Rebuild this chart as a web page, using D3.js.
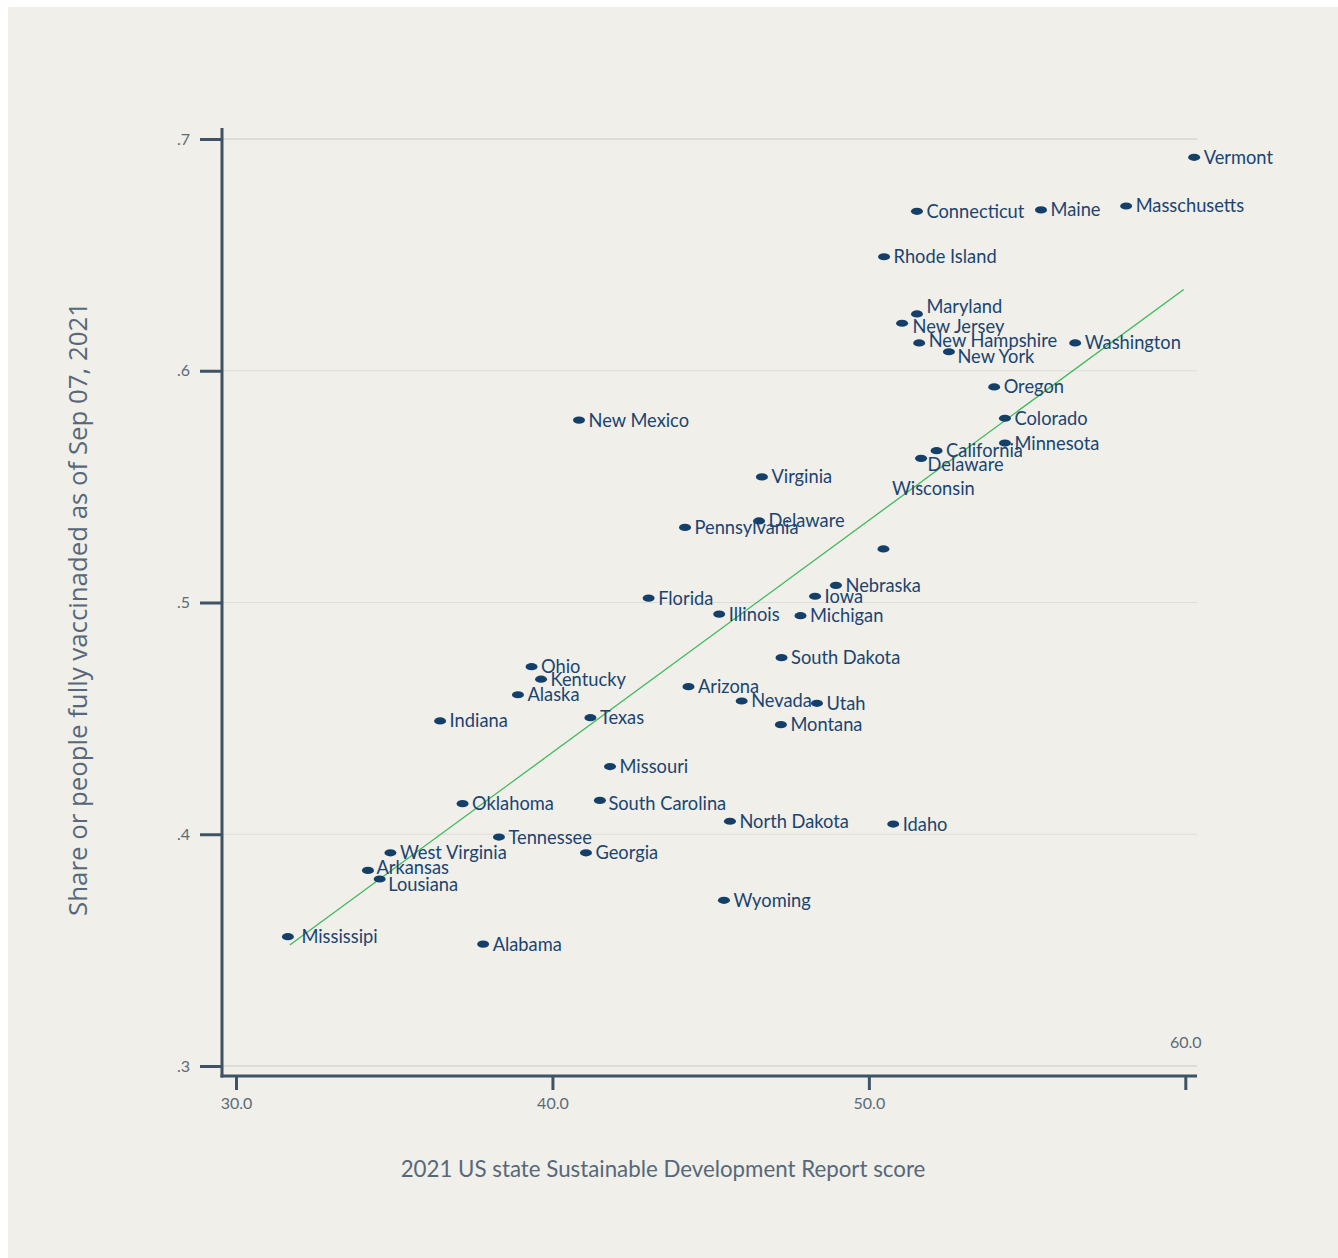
<!DOCTYPE html>
<html>
<head>
<meta charset="utf-8">
<script src="https://cdn.jsdelivr.net/npm/d3@7"></script>
<style>
  html, body { margin: 0; padding: 0; background: #ffffff; }
  svg { display: block; }
</style>
</head>
<body>
<svg id="chart" width="1338" height="1258"></svg>
<script>
// ---------------- DATA ----------------
const states = [
  "Vermont", "Masschusetts", "Maine", "Connecticut", "Rhode Island",
  "Maryland", "New Jersey", "New Hampshire", "New York", "Washington",
  "Oregon", "Colorado", "Minnesota", "California", "Delaware",
  "Wisconsin", "Virginia", "Delaware", "Pennsylvania", "New Mexico",
  "Nebraska", "Iowa", "Florida", "Illinois", "Michigan",
  "South Dakota", "Arizona", "Nevada", "Utah", "Montana",
  "Texas", "Missouri", "South Carolina", "North Dakota", "Idaho",
  "Georgia", "Wyoming", "Ohio", "Kentucky", "Alaska",
  "Indiana", "Oklahoma", "Tennessee", "West Virginia", "Arkansas",
  "Lousiana", "Mississipi", "Alabama"
];
const sdrScore = [
  60.28, 58.13, 55.44, 51.52, 50.48,
  51.52, 51.05, 51.59, 52.53, 56.52,
  53.96, 54.30, 54.30, 52.14, 51.65,
  50.46, 46.62, 46.53, 44.19, 40.84,
  48.96, 48.30, 43.04, 45.27, 47.84,
  47.24, 44.30, 45.98, 48.36, 47.22,
  41.20, 41.82, 41.50, 45.61, 50.77,
  41.06, 45.42, 39.34, 39.64, 38.91,
  36.45, 37.16, 38.31, 34.88, 34.17,
  34.54, 31.64, 37.81
];
const vaxShare = [
  0.6921, 0.6711, 0.6694, 0.6688, 0.6492,
  0.6245, 0.6205, 0.6120, 0.6082, 0.6120,
  0.5930, 0.5795, 0.5688, 0.5655, 0.5622,
  0.5231, 0.5542, 0.5352, 0.5324, 0.5787,
  0.5074, 0.5027, 0.5019, 0.4950, 0.4943,
  0.4762, 0.4637, 0.4575, 0.4565, 0.4473,
  0.4503, 0.4292, 0.4146, 0.4056, 0.4044,
  0.3920, 0.3715, 0.4723, 0.4669, 0.4602,
  0.4489, 0.4132, 0.3988, 0.3920, 0.3844,
  0.3807, 0.3558, 0.3526
];
// fitted line endpoints
const fitX = [31.70, 59.95];
const fitY = [0.3522, 0.6351];

const xTicks = [30, 40, 50, 60];
const yTicks = [0.3, 0.4, 0.5, 0.6, 0.7];

const xTitle = "2021 US state Sustainable Development Report score";
const yTitle = "Share or people fully vaccinaded as of Sep 07, 2021";

// label nudges (layout only), keyed by row index
const labelNudges = {
  5: [0, -7.5],   // Maryland
  6: [1, 3.5],    // New Jersey
  7: [0, -2],     // New Hampshire
  8: [-1, 5],     // New York
  14: [-3, 6],    // Delaware (2)
  15: [-1, -60],  // Wisconsin
  32: [-1, 3],    // South Carolina
  44: [-1, -3],   // Arkansas
  45: [-1, 6],    // Lousiana
  46: [4, 0]      // Mississipi
};

// ---------------- DRAW ----------------
const svg = d3.select("#chart");
const W = 1338, H = 1258;

const axisColor = "#3e5366";
const tickText = "#5b6b7a";
const markColor = "#143f68";
const labelColor = "#1b4470";

svg.append("rect").attr("x", 0).attr("y", 0).attr("width", W).attr("height", H).attr("fill", "#ffffff");
svg.append("rect").attr("x", 8).attr("y", 7).attr("width", W - 8).attr("height", H - 7).attr("fill", "#f0efe9");

const x = d3.scaleLinear().domain([30, 60]).range([236, 1185.3]);
const y = d3.scaleLinear().domain([0.3, 0.7]).range([1066, 139]);

const axisX0 = 222, axisX1 = 1197, axisY = 1076, axisTop = 128;

// gridlines
svg.append("g").selectAll("line").data(yTicks).join("line")
  .attr("x1", axisX0).attr("x2", axisX1)
  .attr("y1", d => y(d)).attr("y2", d => y(d))
  .attr("stroke", d => (d === 0.7 || d === 0.3) ? "#c9c9c9" : "#dcdcdc")
  .attr("stroke-width", 1.2);

// Y axis (ticks)
const yAxis = d3.axisLeft(y).tickValues(yTicks).tickSize(22).tickPadding(10)
  .tickFormat(d => d3.format(".1f")(d).replace(/^0/, ""));
const gy = svg.append("g").attr("transform", `translate(${axisX0},0)`).call(yAxis);
gy.select(".domain").remove();
gy.selectAll(".tick line").attr("stroke", axisColor).attr("stroke-width", 3);
gy.selectAll(".tick text").attr("fill", tickText).attr("font-family", "Lato, 'Noto Sans', sans-serif")
  .attr("font-size", 16);

// X axis (ticks)
const xAxis = d3.axisBottom(x).tickValues(xTicks).tickSize(14).tickFormat(d3.format(".1f"));
const gx = svg.append("g").attr("transform", `translate(0,${axisY})`).call(xAxis);
gx.select(".domain").remove();
gx.selectAll(".tick line").attr("stroke", axisColor).attr("stroke-width", 3);
gx.selectAll(".tick text").attr("fill", tickText).attr("font-family", "Lato, 'Noto Sans', sans-serif")
  .attr("font-size", 16).attr("dy", 0)
  .attr("y", d => d === 60 ? -28 : 33);

// axis lines
svg.append("line").attr("x1", axisX0).attr("x2", axisX0).attr("y1", axisTop).attr("y2", axisY + 1.5)
  .attr("stroke", axisColor).attr("stroke-width", 3);
svg.append("line").attr("x1", axisX0 - 1.5).attr("x2", axisX1).attr("y1", axisY).attr("y2", axisY)
  .attr("stroke", axisColor).attr("stroke-width", 3);

// fit line
svg.append("line")
  .attr("x1", x(fitX[0])).attr("y1", y(fitY[0]))
  .attr("x2", x(fitX[1])).attr("y2", y(fitY[1]))
  .attr("stroke", "#3dba5c").attr("stroke-width", 1.3);

const rows = states.map((s, i) => ({ name: s, sx: sdrScore[i], vy: vaxShare[i], i }));

// points
svg.append("g").selectAll("ellipse").data(rows).join("ellipse")
  .attr("cx", d => x(d.sx)).attr("cy", d => y(d.vy))
  .attr("rx", 6).attr("ry", 3.6)
  .attr("fill", markColor);

// labels
svg.append("g").selectAll("text").data(rows).join("text")
  .attr("x", d => x(d.sx) + 9.5 + (labelNudges[d.i] ? labelNudges[d.i][0] : 0))
  .attr("y", d => y(d.vy) + 6.5 + (labelNudges[d.i] ? labelNudges[d.i][1] : 0))
  .attr("fill", labelColor)
  .attr("font-family", "Lato, 'Noto Sans', sans-serif")
  .attr("font-size", 18.3)
  .text(d => d.name);

// axis titles
svg.append("text")
  .attr("x", 663).attr("y", 1177)
  .attr("text-anchor", "middle")
  .attr("fill", "#56687a")
  .attr("font-family", "Lato, 'Noto Sans', sans-serif")
  .attr("font-size", 22.3)
  .text(xTitle);

svg.append("text")
  .attr("transform", "translate(87,609) rotate(-90)")
  .attr("text-anchor", "middle")
  .attr("fill", "#56687a")
  .attr("font-family", "'Open Sans', 'Noto Sans', sans-serif")
  .attr("font-size", 25.8)
  .text(yTitle);
</script>
</body>
</html>
